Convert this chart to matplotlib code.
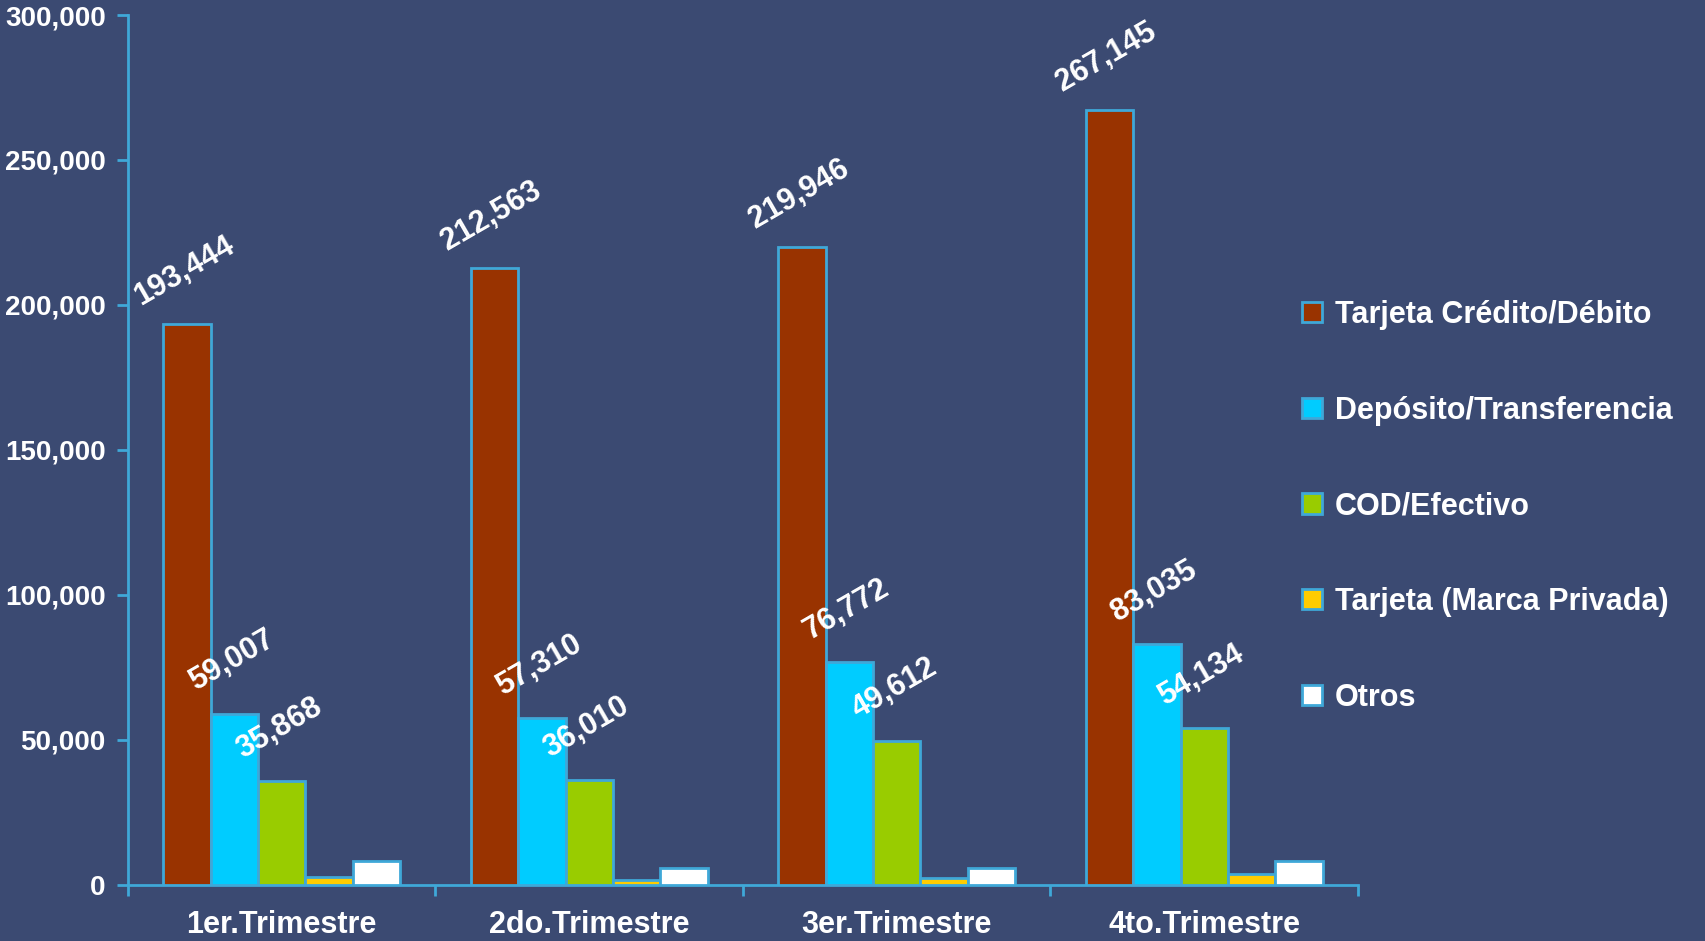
import matplotlib.pyplot as plt
import numpy as np
from matplotlib.ticker import FuncFormatter, FixedLocator
from matplotlib.patches import Patch

categories = ["1er.Trimestre", "2do.Trimestre", "3er.Trimestre", "4to.Trimestre"]
series_names = ["Tarjeta Crédito/Débito", "Depósito/Transferencia", "COD/Efectivo",
                "Tarjeta (Marca Privada)", "Otros"]
tarjeta = [193444, 212563, 219946, 267145]
deposito = [59007, 57310, 76772, 83035]
cod = [35868, 36010, 49612, 54134]
marca_privada = [2600, 1500, 2300, 3500]
otros = [8100, 5700, 5800, 8100]

series = [tarjeta, deposito, cod, marca_privada, otros]
colors = ["#993300", "#00CCFF", "#99CC00", "#FFCC00", "#FFFFFF"]
labelled = [True, True, True, False, False]

bg = "#3B4A72"
edge = "#3FA8D8"

plt.rcParams["font.family"] = ["Liberation Sans", "DejaVu Sans"]
plt.rcParams["font.weight"] = "bold"

fig = plt.figure(figsize=(17.06, 9.41), dpi=100, facecolor=bg)
ax = fig.add_axes([0.075, 0.060, 0.721, 0.924])
ax.set_facecolor(bg)

x = np.arange(len(categories))
width = 0.154

for i, (vals, col) in enumerate(zip(series, colors)):
    pos = x + (i - 2) * width
    ax.bar(pos, vals, width, color=col, edgecolor=edge, linewidth=2, zorder=3)
    if labelled[i]:
        for xp, v in zip(pos, vals):
            ax.annotate(f"{v:,}", (xp, v), xytext=(-2, 38), textcoords="offset points",
                        ha="center", va="center", rotation=30, rotation_mode="anchor",
                        color="white", fontsize=22, fontweight="bold", zorder=4)

ax.set_xlim(-0.5, 3.5)
ax.set_ylim(0, 300000)
ax.yaxis.set_major_locator(FixedLocator(np.arange(0, 300001, 50000)))
ax.yaxis.set_major_formatter(FuncFormatter(lambda v, p: f"{int(v):,}"))

ax.set_xticks(x)
ax.set_xticklabels(categories)
ax.set_xticks(np.arange(-0.5, 3.6, 1), minor=True)
ax.tick_params(axis="x", which="major", length=0, pad=18, labelsize=22, labelcolor="white")
ax.tick_params(axis="x", which="minor", length=8, width=2, color=edge, direction="out")
ax.tick_params(axis="y", length=8, width=2, color=edge, labelsize=20,
               labelcolor="white", pad=8)

for s in ["top", "right"]:
    ax.spines[s].set_visible(False)
for s in ["left", "bottom"]:
    ax.spines[s].set_color(edge)
    ax.spines[s].set_linewidth(2)

handles = [Patch(facecolor=c, edgecolor=edge, linewidth=2) for c in colors]
leg = fig.legend(handles, series_names, loc="center left", bbox_to_anchor=(0.7545, 0.462),
                 bbox_transform=fig.transFigure, frameon=False, fontsize=22,
                 labelspacing=2.15, handlelength=0.65, handleheight=0.65,
                 handletextpad=0.4, borderpad=0, labelcolor="white")
for t in leg.get_texts():
    t.set_fontweight("bold")

fig.savefig("out.png", dpi=100, facecolor=bg)
